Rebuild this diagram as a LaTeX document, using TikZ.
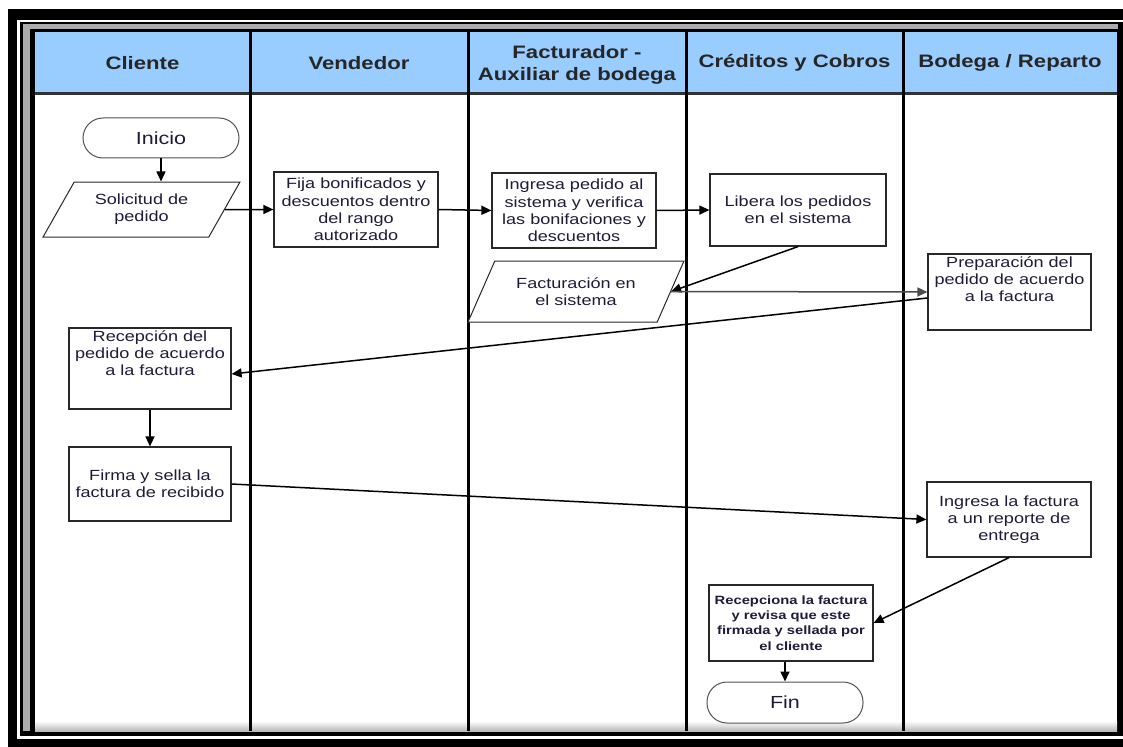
\documentclass[tikz,border=0pt]{standalone}
\usepackage{fontspec}
\setmainfont{Liberation Sans}[FakeStretch=1.23]
\usetikzlibrary{shapes.geometric, arrows.meta, calc}

\definecolor{hdrblue}{RGB}{153,204,255}
\definecolor{ink}{RGB}{32,28,56}
\definecolor{boxline}{RGB}{40,40,40}

\newcommand{\hdrfont}{\bfseries\fontsize{18}{22}\selectfont}
\newcommand{\boxfont}{\fontsize{14.7}{17.2}\selectfont}
\newcommand{\tinyboxfont}{\bfseries\fontsize{12}{15.3}\selectfont}
\newcommand{\pillfont}{\fontsize{17.5}{20}\selectfont}

\begin{document}
\begin{tikzpicture}[x=1pt, y=-1pt,
  box/.style={draw=boxline, line width=1.2pt, fill=white, align=center, inner sep=2pt,
    minimum width=164pt, minimum height=75pt, font=\boxfont, text=ink},
  topbox/.style={box, inner ysep=0pt, text height=47.4pt, text depth=#1},
  datain/.style={draw=boxline, line width=1pt, fill=white, align=center, inner sep=0pt,
    trapezium, trapezium left angle=55, trapezium right angle=125,
    trapezium stretches=true, font=\boxfont, text=ink},
  pill/.style={draw=boxline!80, line width=1pt, rounded corners=20pt, fill=white,
    minimum width=156pt, minimum height=40pt, font=\pillfont, text=ink},
  lane/.style={font=\hdrfont, align=center, text=black!85},
  flow/.style={line width=1.5pt, -{Triangle[length=10pt, width=9pt]}}
]
  \useasboundingbox (0,0) rectangle (1123,746);

  % Frame round the table
  \fill[white] (0,0) rectangle (1123,746);
  \fill[black] (8,9) rectangle (1140,760);
  \fill[white] (17,20) rectangle (1140,739);
  \fill[black] (20,22) rectangle (1140,736);
  \fill[gray!65] (23,24) rectangle (1118,731);
  \fill[black] (30,29) rectangle (1118,731);
  \fill[white] (35,32) rectangle (1117,731);
  \shade[top color=white, bottom color=gray!55] (35,721) rectangle (1117,731);

  % Header row and lanes
  \fill[hdrblue] (35,32) rectangle (1117,92);
  \draw[line width=2.5pt, black!80] (35,93.5) -- (1117,93.5);
  \foreach \x in {250,468,686,903}
    \draw[line width=3pt] (\x,32) -- (\x,731);

  \node[lane] (hcli) at (142.5,63) {Cliente};
  \node[lane] (hven) at (359,63) {Vendedor};
  \node[lane] (hfac) at (577,64.5) {Facturador -\\Auxiliar de bodega};
  \node[lane] (hcre) at (794.5,63) {Créditos y Cobros};
  \node[lane] (hbod) at (1010,63) {Bodega / Reparto};

  % Steps
  \node[pill] (inicio) at (161,138) {Inicio};
  \node[datain, minimum width=197pt, minimum height=55pt] (solicitud) at (141.5,209.5) {Solicitud de\\pedido};
  \node[box] (fija) at (356,209.5) {Fija bonificados y\\descuentos dentro\\del rango\\autorizado};
  \node[box] (ingresa) at (574,210.5) {Ingresa pedido al\\sistema y verifica\\las bonifaciones y\\descuentos};
  \node[box, minimum width=176pt, minimum height=72pt] (libera) at (798,210) {Libera los pedidos\\en el sistema};
  \node[datain, minimum width=216pt, minimum height=61pt] (facturacion) at (576,291.5) {Facturación en\\el sistema};
  \node[topbox=28.6pt, minimum width=163pt] (preparacion) at (1009.5,292) {Preparación del\\pedido de acuerdo\\a la factura};
  \node[topbox=33.6pt, minimum width=162pt] (recepcion) at (150,368.5) {Recepción del\\pedido de acuerdo\\a la factura};
  \node[box, minimum width=162pt, minimum height=74pt] (firma) at (150,484) {Firma y sella la\\factura de recibido};
  \node[box] (ingfactura) at (1009,519.5) {Ingresa la factura\\a un reporte de\\entrega};
  \node[box, minimum height=76pt, font=\tinyboxfont] (recepciona) at (791,623) {Recepciona la factura\\y revisa que este\\firmada y sellada por\\el cliente};
  \node[pill, minimum height=41pt] (fin) at (785,702.5) {Fin};

  % Connectors
  \draw[flow] (inicio.south) -- (inicio.south |- solicitud.north);
  \draw[flow] (solicitud.east) -- (fija.west);
  \draw[flow] (fija.east) -- (ingresa.west);
  \draw[flow] (ingresa.east) -- (libera.west);
  \draw[flow] (libera.south) -- (facturacion.east);
  \draw[flow, black!70] (facturacion.east) -- (preparacion.west);
  \draw[flow] ([yshift=-6pt]preparacion.west) -- ([yshift=-5.5pt]recepcion.east);
  \draw[flow] (recepcion.south) -- (firma.north);
  \draw[flow] (firma.east) -- (ingfactura.west);
  \draw[flow] (ingfactura.south) -- (recepciona.east);
  \draw[flow] (fin.north |- recepciona.south) -- (fin.north);
\end{tikzpicture}
\end{document}
